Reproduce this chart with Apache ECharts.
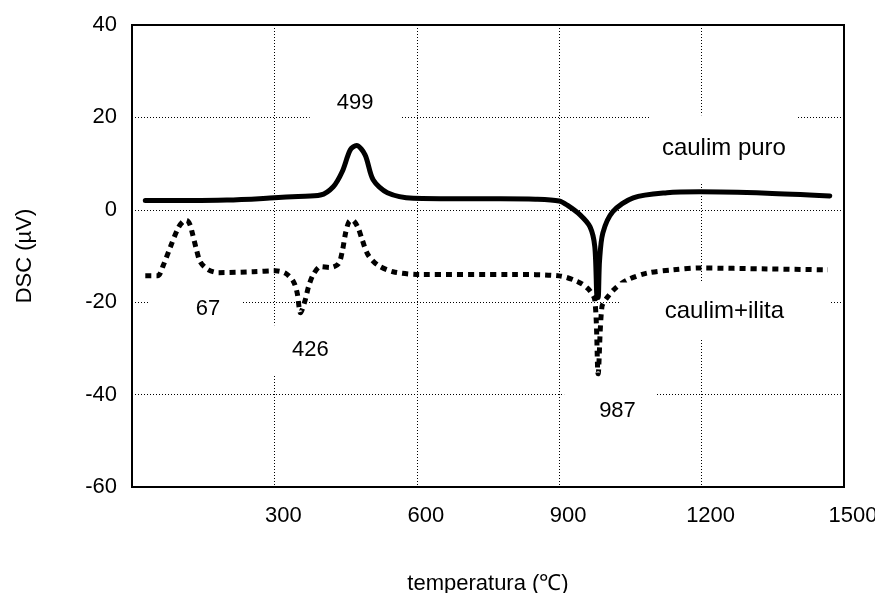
<!DOCTYPE html>
<html>
<head>
<meta charset="utf-8">
<script src="https://cdn.jsdelivr.net/npm/echarts@6/dist/echarts.min.js"></script>
<style>
  html, body { margin: 0; padding: 0; background: #fff; }
  #chart { width: 875px; height: 593px; }
</style>
</head>
<body>
<div id="chart"></div>
<script>
/* DSC curves: caulim puro (solid) and caulim+ilita (dotted) */
const puroTemp = [28, 100, 200, 300, 350, 397, 424, 443, 460, 473, 491, 508, 538, 593, 700, 776, 850, 900, 917, 944, 965, 975, 980, 982, 985, 992, 1013, 1056, 1127, 1197, 1338, 1470];
const puroDsc = [2.0, 2.0, 2.1, 2.6, 2.9, 3.2, 5.0, 8.3, 13.0, 13.9, 11.9, 6.5, 3.7, 2.5, 2.4, 2.4, 2.3, 1.9, 1.0, -1.1, -3.7, -8, -19, -19, -11, -5, -0.4, 2.6, 3.7, 3.9, 3.6, 3.0];

const ilitaTemp = [28, 54, 66, 81, 98, 108, 115, 122, 127, 136, 144, 161, 182, 256, 302, 323, 340, 348, 355, 365, 372, 382, 397, 418, 435, 443, 450, 457, 464, 475, 485, 497, 518, 550, 607, 803, 900, 938, 961, 975, 982, 990, 1001, 1018, 1043, 1085, 1140, 1197, 1338, 1466];
const ilitaDsc = [-14.3, -14.3, -12, -8, -3.8, -2.5, -2.3, -3.2, -5, -8.7, -11.3, -13, -13.6, -13.4, -13.2, -13.7, -15.5, -18, -22.3, -19.5, -16.6, -14, -12.3, -12.5, -11.7, -9, -5, -2.6, -2.2, -3.6, -6.5, -9.7, -12, -13.4, -14, -14, -14.3, -15.5, -17.1, -19.5, -35.5, -21, -19, -17, -15.2, -13.7, -13, -12.6, -12.8, -13];

// annotations (text, anchor in data units)
const noteText = ['499', 'caulim puro', '67', '426', '987', 'caulim+ilita'];
const noteTemp = [470, 1247, 134, 376, 1007, 1249];
const noteDsc = [23.2, 13.2, -21.4, -30.3, -43.5, -21.9];

const xTicks = { min: 0, max: 1500, step: 300 };
const yTicks = { min: -60, max: 40, step: 20 };

// styling of the annotation boxes (white boxes hide the grid)
const notePad = [[8, 27, 8, 27], [19, 12, 24, 12], [10, 21, 10, 46], [15, 20, 12, 20], [8, 20, 8, 35], [5, 46, 28, 45]];
const noteSize = [22, 24, 22, 22, 22, 24];

const FONT = '"Liberation Sans", Arial, sans-serif';
const zip = (xs, ys) => xs.map((x, i) => [x, ys[i]]);

const chart = echarts.init(document.getElementById('chart'));

chart.setOption({
  animation: false,
  backgroundColor: '#fff',
  textStyle: { fontFamily: FONT, color: '#000' },
  grid: {
    left: 132, right: 31, top: 25, bottom: 106,
    outerBoundsMode: 'none',
    containLabel: false,
    show: true, borderColor: '#000', borderWidth: 2
  },
  xAxis: {
    type: 'value',
    min: xTicks.min, max: xTicks.max, interval: xTicks.step,
    name: 'temperatura (℃)',
    nameLocation: 'middle',
    nameGap: 86,
    nameTextStyle: { fontSize: 22, color: '#000', fontFamily: FONT },
    axisLine: { onZero: false, lineStyle: { color: '#000', width: 2 } },
    axisTick: { show: false },
    axisLabel: {
      fontSize: 22, color: '#000', fontFamily: FONT, margin: 18,
      padding: [0, 0, 0, 18],
      formatter: v => (v === 0 ? '' : v)
    },
    splitLine: { show: true, lineStyle: { color: '#000', width: 1, type: [1, 2] } }
  },
  yAxis: {
    type: 'value',
    min: yTicks.min, max: yTicks.max, interval: yTicks.step,
    name: 'DSC (µV)',
    nameLocation: 'middle',
    nameGap: 96,
    nameTextStyle: { fontSize: 22, color: '#000', fontFamily: FONT },
    axisLine: { lineStyle: { color: '#000', width: 2 } },
    axisTick: { show: false },
    axisLabel: { fontSize: 22, color: '#000', fontFamily: FONT, margin: 15 },
    splitLine: { show: true, lineStyle: { color: '#000', width: 1, type: [1, 2] } }
  },
  series: [
    {
      name: 'caulim puro',
      type: 'line',
      data: zip(puroTemp, puroDsc),
      showSymbol: false,
      smooth: 0.3,
      lineStyle: { color: '#000', width: 5, cap: 'round', join: 'round' },
      z: 3,
      markPoint: {
        symbol: 'rect',
        symbolSize: 0,
        silent: true,
        data: noteText.map((t, i) => ({
          name: t,
          coord: [noteTemp[i], noteDsc[i]],
          label: {
            show: true,
            position: 'inside',
            formatter: '{b}',
            color: '#000',
            fontFamily: FONT,
            fontSize: noteSize[i],
            backgroundColor: '#fff',
            padding: notePad[i]
          }
        }))
      }
    },
    {
      name: 'caulim+ilita',
      type: 'line',
      data: zip(ilitaTemp, ilitaDsc),
      showSymbol: false,
      smooth: 0.3,
      lineStyle: { color: '#000', width: 5, type: [6, 5], cap: 'butt' },
      z: 2
    }
  ]
});
</script>
</body>
</html>
